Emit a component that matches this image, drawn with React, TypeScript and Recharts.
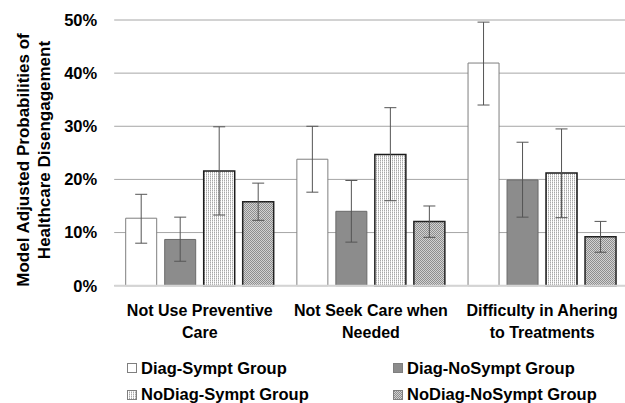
import React from "react";
import {
  BarChart,
  Bar,
  XAxis,
  YAxis,
  CartesianGrid,
  ErrorBar,
  Label,
} from "recharts";

const CATEGORIES = [
  ["Not Use Preventive", "Care"],
  ["Not Seek Care when", "Needed"],
  ["Difficulty in Ahering", "to Treatments"],
];

// model adjusted probabilities (%) with lower / upper CI bounds
const DIAG_SYMPT = [12.7, 23.8, 41.9];
const DIAG_SYMPT_LO = [8.0, 17.6, 34.0];
const DIAG_SYMPT_HI = [17.2, 30.0, 49.6];

const DIAG_NOSYMPT = [8.7, 14.0, 19.9];
const DIAG_NOSYMPT_LO = [4.6, 8.2, 12.9];
const DIAG_NOSYMPT_HI = [12.9, 19.8, 27.0];

const NODIAG_SYMPT = [21.6, 24.7, 21.2];
const NODIAG_SYMPT_LO = [13.3, 16.0, 12.8];
const NODIAG_SYMPT_HI = [29.9, 33.5, 29.5];

const NODIAG_NOSYMPT = [15.8, 12.1, 9.2];
const NODIAG_NOSYMPT_LO = [12.3, 9.1, 6.3];
const NODIAG_NOSYMPT_HI = [19.3, 15.0, 12.1];

const Y_TICKS = [0, 10, 20, 30, 40, 50];

const SERIES = [
  { key: "ds", name: "Diag-Sympt Group", values: DIAG_SYMPT, lo: DIAG_SYMPT_LO, hi: DIAG_SYMPT_HI, fill: "#ffffff", stroke: "#7f7f7f", sw: 1 },
  { key: "dn", name: "Diag-NoSympt Group", values: DIAG_NOSYMPT, lo: DIAG_NOSYMPT_LO, hi: DIAG_NOSYMPT_HI, fill: "#8c8c8c", stroke: "#6a6a6a", sw: 1 },
  { key: "ns", name: "NoDiag-Sympt Group", values: NODIAG_SYMPT, lo: NODIAG_SYMPT_LO, hi: NODIAG_SYMPT_HI, fill: "url(#dotsV)", stroke: "#1a1a1a", sw: 1.5 },
  { key: "nn", name: "NoDiag-NoSympt Group", values: NODIAG_NOSYMPT, lo: NODIAG_NOSYMPT_LO, hi: NODIAG_NOSYMPT_HI, fill: "url(#checker)", stroke: "#222222", sw: 1.5 },
];

const data = CATEGORIES.map((lines, i) => {
  const row: any = { name: lines.join(" "), lines };
  SERIES.forEach((s) => {
    row[s.key] = s.values[i];
    row[s.key + "Err"] = [s.values[i] - s.lo[i], s.hi[i] - s.values[i]];
  });
  return row;
});

const FONT = "'Liberation Sans', Arial, sans-serif";

const CategoryTick = ({ x, y, payload, index }: any) => {
  const lines = CATEGORIES[index] || [payload.value];
  return (
    <g>
      {lines.map((l: string, i: number) => (
        <text
          key={i}
          x={x}
          y={y + 30 + i * 22}
          textAnchor="middle"
          fontFamily={FONT}
          fontWeight="bold"
          fontSize={16}
          fill="#000"
        >
          {l}
        </text>
      ))}
    </g>
  );
};

const YTitle = () => (
  <g fontFamily={FONT} fontWeight="bold" fontSize={17} fill="#000">
    <text x={23} y={160} transform="rotate(-90 23 160)" textAnchor="middle" dominantBaseline="central">
      Model Adjusted Probabilities of
    </text>
    <text x={44} y={150} transform="rotate(-90 44 150)" textAnchor="middle" dominantBaseline="central">
      Healthcare Disengagement
    </text>
  </g>
);

const LEGEND_POS = [
  { left: 127, top: 368 },
  { left: 393, top: 368 },
  { left: 127, top: 394.5 },
  { left: 393, top: 394.5 },
];

export default function App() {
  return (
    <div style={{ position: "absolute", left: 0, top: 0, width: 625, height: 403, overflow: "hidden", background: "#fff" }}>
      <svg width={0} height={0} style={{ position: "absolute" }}>
        <defs>
          <pattern id="dotsV" width={2} height={2} patternUnits="userSpaceOnUse">
            <rect width={2} height={2} fill="#ffffff" />
            <rect x={0} y={0} width={1} height={1} fill="#a8a8a8" />
            <rect x={0} y={1} width={1} height={1} fill="#d4d4d4" />
          </pattern>
          <pattern id="checker" width={2} height={2} patternUnits="userSpaceOnUse">
            <rect width={2} height={2} fill="#d2d2d2" />
            <rect x={0} y={0} width={1} height={1} fill="#8e8e8e" />
            <rect x={1} y={1} width={1} height={1} fill="#8e8e8e" />
          </pattern>
        </defs>
      </svg>
      <BarChart
        width={630}
        height={403}
        data={data}
        margin={{ top: 20, right: 2.3, bottom: 57.3, left: 0 }}
        barCategoryGap={11.5}
        barGap={8}
      >
        <CartesianGrid vertical={false} stroke="#a6a6a6" />
        <XAxis
          dataKey="name"
          height={60}
          tick={<CategoryTick />}
          tickLine={false}
          tickSize={0}
          tickMargin={0}
          axisLine={{ stroke: "#d4d4d4", strokeWidth: 2 }}
          interval={0}
        />
        <YAxis
          width={114.2}
          domain={[0, 50]}
          ticks={Y_TICKS}
          tickFormatter={(v) => `${v}%`}
          tick={{ fill: "#000", fontSize: 16.5, fontWeight: "bold", fontFamily: FONT }}
          tickLine={false}
          axisLine={false}
          tickMargin={11}
        >
          <Label content={<YTitle />} />
        </YAxis>
        {SERIES.map((s) => (
          <Bar
            key={s.key}
            dataKey={s.key}
            name={s.name}
            fill={s.fill}
            stroke={s.stroke}
            strokeWidth={s.sw}
            isAnimationActive={false}
          >
            <ErrorBar
              dataKey={s.key + "Err"}
              width={6}
              stroke="#555555"
              strokeWidth={1}
              direction="y"
              isAnimationActive={false}
            />
          </Bar>
        ))}
      </BarChart>
      {SERIES.map((s, i) => (
        <div
          key={s.key}
          style={{
            position: "absolute",
            left: LEGEND_POS[i].left,
            top: LEGEND_POS[i].top - 11,
            height: 22,
            display: "flex",
            alignItems: "center",
            fontFamily: FONT,
            fontWeight: "bold",
            fontSize: 16.5,
            whiteSpace: "nowrap",
          }}
        >
          <svg width={10} height={10} style={{ marginRight: 4 }}>
            <rect x={0.5} y={0.5} width={9} height={9} fill={s.fill} stroke="#7f7f7f" strokeWidth={1} />
          </svg>
          {s.name}
        </div>
      ))}
    </div>
  );
}
